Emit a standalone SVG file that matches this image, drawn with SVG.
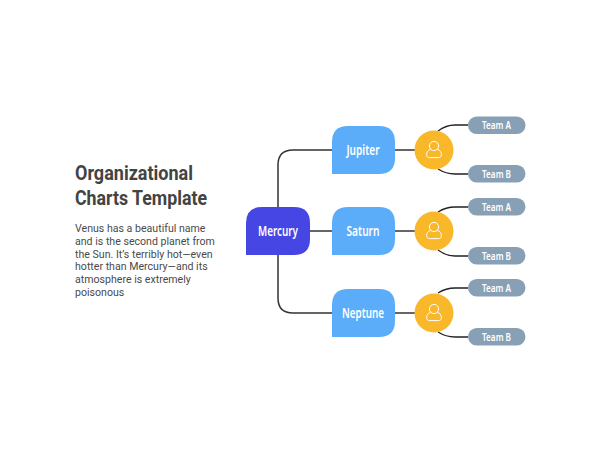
<svg xmlns="http://www.w3.org/2000/svg" width="600" height="463" viewBox="0 0 600 463">
<style>
.c{fill:none;stroke:#333;stroke-width:1.5}
.d{fill:none;stroke:#222;stroke-width:1.3}
.t{font-family:"Noto Sans","Liberation Sans",sans-serif;font-weight:600;fill:#fff;text-anchor:middle}
.n{font-size:13.5px}
.p{font-size:10.5px}
.h{font-family:Roboto,"Liberation Sans",sans-serif;font-weight:700;font-size:21px;fill:#434343}
.b{font-family:Roboto,"Liberation Sans",sans-serif;font-size:10.6px;fill:#4a4a4a}
.pill{fill:#87a0b5}
.circ{fill:#f9b82a}
.ic{fill:none;stroke:#fff;stroke-width:1}
.blue{fill:#5cadf9}
</style>
<defs>
<g id="icon"><circle cx="0" cy="-4" r="4.600" class="ic"/><path d="M-3.300,-0.800 C-6,0.200 -7.400,2 -7.400,4.600 C-7.400,6.600 -6.200,7.600 -4.400,7.600 L4.400,7.600 C6.200,7.600 7.400,6.600 7.400,4.600 C7.400,2 6,0.200 3.300,-0.800" class="ic"/></g>
</defs>
<g id="connectors">
<path class="c" d="M278,207 V165 Q278,150 293,150 H332"/>
<path class="c" d="M278,255 V298 Q278,313 293,313 H332"/>
<path class="c" d="M310,231 H332"/>
<path class="c" d="M395,150 H415"/>
<path class="c" d="M395,231 H415"/>
<path class="c" d="M395,313 H415"/>
<path class="d" d="M438,131 Q446,125 455,125 H468"/>
<path class="d" d="M438,169 Q446,174 455,174 H468"/>
<path class="d" d="M438,212 Q446,207 455,207 H468"/>
<path class="d" d="M438,250 Q446,256 455,256 H468"/>
<path class="d" d="M438,293 Q446,288 455,288 H468"/>
<path class="d" d="M438,332 Q446,337 455,337 H468"/>
</g>
<g id="title">
<text class="h" x="75" y="179.500" textLength="118" lengthAdjust="spacingAndGlyphs">Organizational</text>
<text class="h" x="75" y="205" textLength="132" lengthAdjust="spacingAndGlyphs">Charts Template</text>
</g>
<g id="description">
<text class="b" x="75" y="232">Venus has a beautiful name</text>
<text class="b" x="75" y="245">and is the second planet from</text>
<text class="b" x="75" y="258">the Sun. It’s terribly hot—even</text>
<text class="b" x="75" y="270">hotter than Mercury—and its</text>
<text class="b" x="75" y="283">atmosphere is extremely</text>
<text class="b" x="75" y="296">poisonous</text>
</g>
<g id="mercury">
<path d="M246,255 V223 Q246,207 262,207 H294 Q310,207 310,223 V239 Q310,255 294,255 Z" fill="#4646e4"/>
<text class="t n" x="278" y="236" textLength="40" lengthAdjust="spacingAndGlyphs">Mercury</text>
</g>
<g id="jupiter">
<path class="blue" d="M332,174 V142 Q332,126 348,126 H379 Q395,126 395,142 V158 Q395,174 379,174 Z"/>
<text class="t n" x="363" y="155" textLength="33" lengthAdjust="spacingAndGlyphs">Jupiter</text>
</g>
<g id="saturn">
<path class="blue" d="M332,255 V223 Q332,207 348,207 H379 Q395,207 395,223 V239 Q395,255 379,255 Z"/>
<text class="t n" x="363" y="236" textLength="33" lengthAdjust="spacingAndGlyphs">Saturn</text>
</g>
<g id="neptune">
<path class="blue" d="M332,337 V305 Q332,289 348,289 H379 Q395,289 395,305 V321 Q395,337 379,337 Z"/>
<text class="t n" x="363" y="318" textLength="42" lengthAdjust="spacingAndGlyphs">Neptune</text>
</g>
<g id="person1"><circle class="circ" cx="434" cy="150" r="19.500"/><use href="#icon" x="434" y="150"/></g>
<g id="person2"><circle class="circ" cx="434" cy="231" r="19.500"/><use href="#icon" x="434" y="231"/></g>
<g id="person3"><circle class="circ" cx="434" cy="313" r="19.500"/><use href="#icon" x="434" y="313"/></g>
<g id="team-a1"><rect class="pill" x="468" y="116.500" width="57.500" height="17.500" rx="8.750"/><text class="t p" x="496.500" y="129" textLength="29" lengthAdjust="spacingAndGlyphs">Team A</text></g>
<g id="team-b1"><rect class="pill" x="468" y="165" width="57.500" height="17.500" rx="8.750"/><text class="t p" x="496.500" y="177.800" textLength="29" lengthAdjust="spacingAndGlyphs">Team B</text></g>
<g id="team-a2"><rect class="pill" x="468" y="198" width="57.500" height="17.500" rx="8.750"/><text class="t p" x="496.500" y="210.800" textLength="29" lengthAdjust="spacingAndGlyphs">Team A</text></g>
<g id="team-b2"><rect class="pill" x="468" y="247" width="57.500" height="17.500" rx="8.750"/><text class="t p" x="496.500" y="259.800" textLength="29" lengthAdjust="spacingAndGlyphs">Team B</text></g>
<g id="team-a3"><rect class="pill" x="468" y="279" width="57.500" height="17.500" rx="8.750"/><text class="t p" x="496.500" y="291.800" textLength="29" lengthAdjust="spacingAndGlyphs">Team A</text></g>
<g id="team-b3"><rect class="pill" x="468" y="328" width="57.500" height="17.500" rx="8.750"/><text class="t p" x="496.500" y="340.800" textLength="29" lengthAdjust="spacingAndGlyphs">Team B</text></g>
</svg>
